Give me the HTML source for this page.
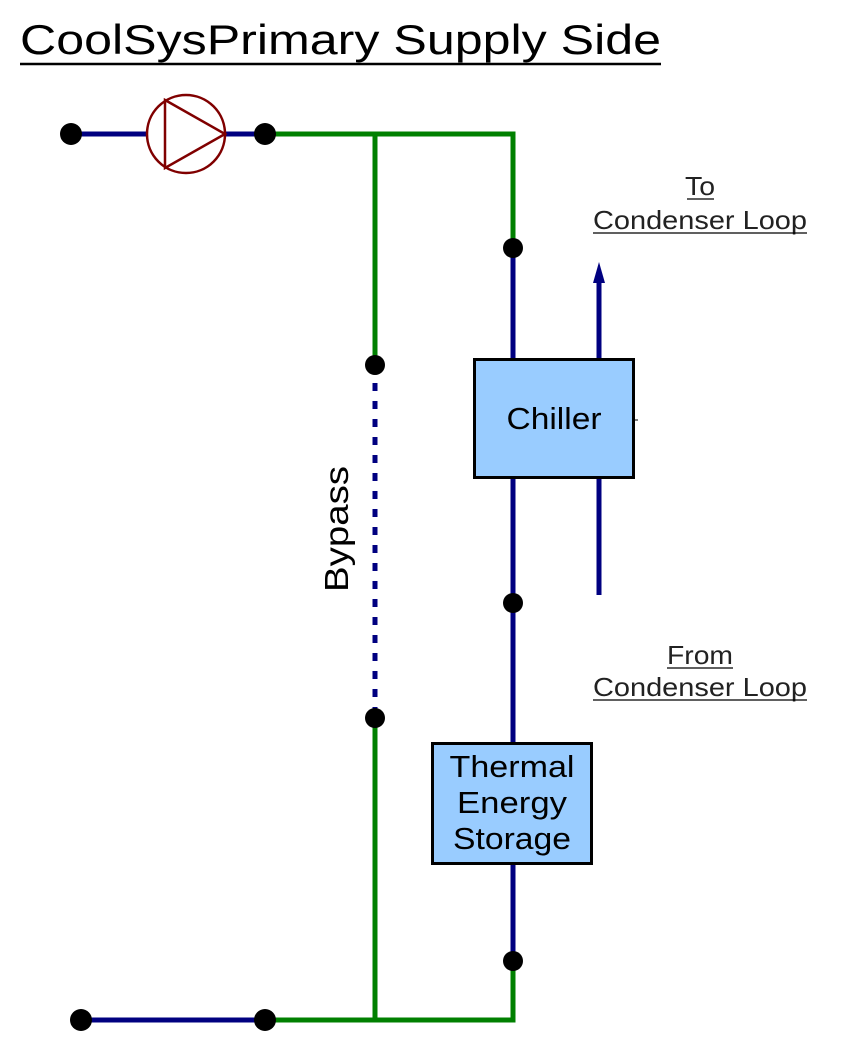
<!DOCTYPE html>
<html><head><meta charset="utf-8"><style>
html,body{margin:0;padding:0;background:#fff;}
svg{display:block;}
</style></head><body>
<svg width="845" height="1039" viewBox="0 0 845 1039" xmlns="http://www.w3.org/2000/svg" font-family="Liberation Sans, sans-serif">
<text x="20" y="54" font-size="42" fill="#000" textLength="641" lengthAdjust="spacingAndGlyphs">CoolSysPrimary Supply Side</text>
<line x1="20" y1="64" x2="661" y2="64" stroke="#000" stroke-width="2.5"/>
<g stroke-width="5" fill="none">
<line x1="71" y1="134" x2="265" y2="134" stroke="#000080"/>
<polyline points="265,134 513,134 513,248" stroke="#008000"/>
<line x1="375" y1="134" x2="375" y2="365" stroke="#008000"/>
<line x1="375" y1="365" x2="375" y2="718" stroke="#000080" stroke-dasharray="8,10"/>
<line x1="375" y1="718" x2="375" y2="1020" stroke="#008000"/>
<line x1="513" y1="248" x2="513" y2="961" stroke="#000080"/>
<polyline points="513,961 513,1020 265,1020" stroke="#008000"/>
<line x1="81" y1="1020" x2="265" y2="1020" stroke="#000080"/>
<line x1="599" y1="280" x2="599" y2="595" stroke="#000080"/>
</g>
<polygon points="599,262 593,283 605,283" fill="#000080"/>
<circle cx="186" cy="134" r="39" fill="#fff" stroke="#800000" stroke-width="2.5"/>
<polygon points="165,100 225,134 165,168" fill="none" stroke="#800000" stroke-width="2.5"/>
<rect x="474.5" y="359.5" width="159" height="118" fill="#99ccff" stroke="#000" stroke-width="3"/>
<line x1="634" y1="420" x2="638" y2="420" stroke="#000" stroke-width="1"/>
<text x="554" y="429" font-size="31" text-anchor="middle" fill="#000" textLength="95" lengthAdjust="spacingAndGlyphs">Chiller</text>
<rect x="432.5" y="743.5" width="159" height="120" fill="#99ccff" stroke="#000" stroke-width="3"/>
<text x="512" y="777" font-size="31" text-anchor="middle" textLength="125" lengthAdjust="spacingAndGlyphs">Thermal</text>
<text x="512" y="813" font-size="31" text-anchor="middle" textLength="110" lengthAdjust="spacingAndGlyphs">Energy</text>
<text x="512" y="849" font-size="31" text-anchor="middle" textLength="118" lengthAdjust="spacingAndGlyphs">Storage</text>
<text transform="translate(348,529) rotate(-90)" font-size="33" text-anchor="middle" textLength="126" lengthAdjust="spacingAndGlyphs">Bypass</text>
<g font-size="26" text-anchor="middle" fill="#222">
<text x="700" y="195" textLength="30" lengthAdjust="spacingAndGlyphs">To</text>
<text x="700" y="229" textLength="214" lengthAdjust="spacingAndGlyphs">Condenser Loop</text>
<text x="700" y="664" textLength="66" lengthAdjust="spacingAndGlyphs">From</text>
<text x="700" y="696" textLength="214" lengthAdjust="spacingAndGlyphs">Condenser Loop</text>
</g>
<g stroke="#000" stroke-width="1.3">
<line x1="687" y1="199" x2="714" y2="199"/>
<line x1="593" y1="233" x2="807" y2="233"/>
<line x1="667" y1="668" x2="733" y2="668"/>
<line x1="593" y1="700" x2="807" y2="700"/>
</g>
<g fill="#000">
<circle cx="71" cy="134" r="11"/>
<circle cx="265" cy="134" r="11"/>
<circle cx="513" cy="248" r="10"/>
<circle cx="375" cy="365" r="10"/>
<circle cx="375" cy="718" r="10"/>
<circle cx="513" cy="603" r="10"/>
<circle cx="513" cy="961" r="10"/>
<circle cx="81" cy="1020" r="11"/>
<circle cx="265" cy="1020" r="11"/>
</g>
</svg>
</body></html>
